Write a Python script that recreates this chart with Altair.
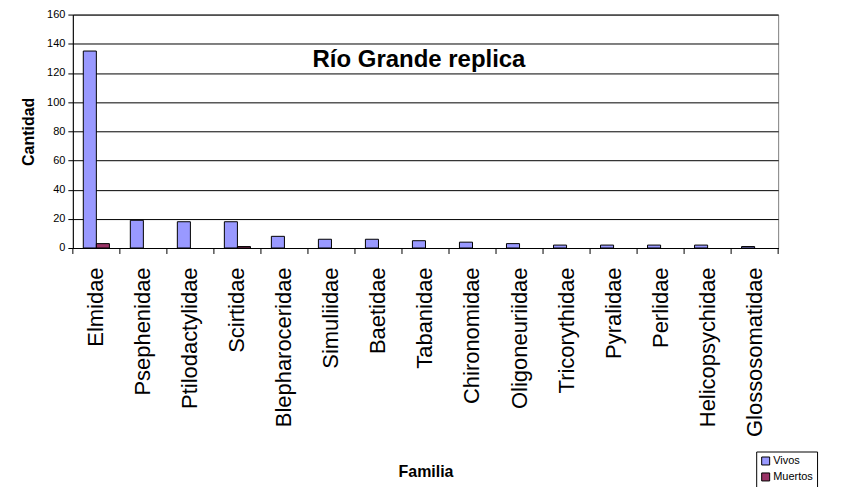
import altair as alt
import pandas as pd

familias = ["Elmidae", "Psephenidae", "Ptilodactylidae", "Scirtidae", "Blepharoceridae",
            "Simuliidae", "Baetidae", "Tabanidae", "Chironomidae", "Oligoneuriidae",
            "Tricorythidae", "Pyralidae", "Perlidae", "Helicopsychidae", "Glossosomatidae"]
vivos = [135, 19, 18, 18, 8, 6, 6, 5, 4, 3, 2, 2, 2, 2, 1]
muertos = [3, 0, 0, 1, 0, 0, 0, 0, 0, 0, 0, 0, 0, 0, 0]
series = ["Vivos", "Muertos"]
colores = ["#9999FF", "#993366"]
titulo = "Río Grande replica"
y_ticks = [0, 20, 40, 60, 80, 100, 120, 140, 160]

rows = []
for f, v, m in zip(familias, vivos, muertos):
    rows.append({"Familia": f, "Serie": "Vivos", "Cantidad": v})
    rows.append({"Familia": f, "Serie": "Muertos", "Cantidad": m})
df = pd.DataFrame(rows)
fam_df = pd.DataFrame({"Familia": familias})
title_df = pd.DataFrame({"t": [titulo]})

FONT = "Liberation Sans"
W, H = 707, 234

x_scale = alt.Scale(domain=familias, paddingInner=0, paddingOuter=0)
x_axis = alt.Axis(title="Familia", labelAngle=-90, ticks=False, domain=True,
                  domainColor="black", labelFont=FONT, labelFontSize=22, labelColor="black",
                  labelPadding=19, labelLimit=400, titleFont=FONT, titleFontSize=16,
                  titleFontWeight="bold", titleColor="black", titlePadding=27)

bars = alt.Chart(df).transform_filter("datum.Cantidad > 0").mark_bar(
    stroke="black", strokeWidth=1
).encode(
    x=alt.X("Familia:N", scale=x_scale, sort=familias, axis=x_axis),
    xOffset=alt.XOffset("Serie:N", sort=series,
                        scale=alt.Scale(domain=series, paddingInner=0, paddingOuter=0.8)),
    y=alt.Y("Cantidad:Q", scale=alt.Scale(domain=[0, 160], nice=False),
            axis=alt.Axis(values=y_ticks, title="Cantidad", grid=True, gridColor="black",
                          gridOpacity=1, gridWidth=1, tickColor="black", tickSize=5,
                          domainColor="black", labelFont=FONT, labelFontSize=11,
                          labelColor="black", labelPadding=3, titleFont=FONT,
                          titleFontSize=16, titleFontWeight="bold", titleColor="black",
                          titlePadding=10)),
    color=alt.Color("Serie:N", sort=series, scale=alt.Scale(domain=series, range=colores),
                    legend=alt.Legend(title=None, orient="none", legendX=685, legendY=438,
                                      symbolType="square", symbolSize=64,
                                      symbolStrokeColor="black", symbolStrokeWidth=1,
                                      labelFont=FONT, labelFontSize=11, labelColor="black",
                                      strokeColor="black", fillColor="white", padding=4,
                                      rowPadding=3, labelOffset=2)),
)

tick_left = alt.Chart(fam_df).mark_rule(color="black", strokeWidth=1).encode(
    x=alt.X("Familia:N", bandPosition=0, sort=familias, scale=x_scale, axis=x_axis),
    y=alt.value(H), y2=alt.value(H + 6),
)
tick_right = alt.Chart(fam_df).transform_filter(
    alt.datum.Familia == familias[-1]
).mark_rule(color="black", strokeWidth=1).encode(
    x=alt.X("Familia:N", bandPosition=1, sort=familias, scale=x_scale, axis=x_axis),
    y=alt.value(H), y2=alt.value(H + 6),
)

title_text = alt.Chart(title_df).mark_text(
    font=FONT, fontSize=24, fontWeight="bold", color="black",
    align="center", baseline="alphabetic"
).encode(text="t:N", x=alt.value(347), y=alt.value(53))

chart = alt.layer(bars, tick_left, tick_right, title_text).properties(
    width=W, height=H,
    autosize=alt.AutoSizeParams(type="none"),
    padding={"left": 65, "top": 6, "right": 60, "bottom": 245},
    background="white",
).configure_view(stroke="#808080", strokeWidth=1)

chart.save("out.html", embed_options={"renderer": "svg", "actions": False})
